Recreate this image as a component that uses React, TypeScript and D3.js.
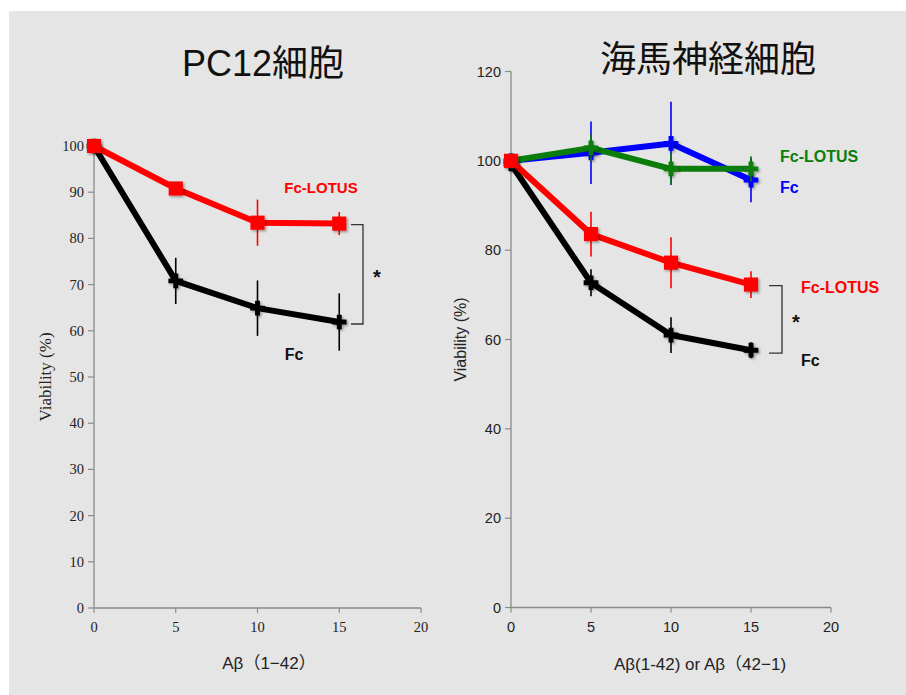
import React from 'react';
import * as d3 from 'd3';

// doses of Aβ (x) shared by both panels
const doses = [0, 5, 10, 15];
const xTicks = [0, 5, 10, 15, 20];
const pc12YTicks = [0, 10, 20, 30, 40, 50, 60, 70, 80, 90, 100];
const hipYTicks = [0, 20, 40, 60, 80, 100, 120];

// PC12 cells
const pc12Lotus = [100, 90.8, 83.4, 83.2];
const pc12LotusErr = [0.8, 1, 5, 2.5];
const pc12Fc = [100, 70.8, 64.9, 61.9];
const pc12FcErr = [0.5, 5, 6, 6.2];

// hippocampal neurons
const hipFc = [99.3, 72.7, 61, 57.6];
const hipFcErr = [0.8, 3, 4, 1.8];
const hipLotus = [100, 83.6, 77.2, 72.3];
const hipLotusErr = [0.8, 5, 5.7, 3];
const hipFcRev = [100, 101.8, 103.9, 95.7];
const hipFcRevErr = [0.5, 7, 9.3, 5];
const hipLotusRev = [100, 102.9, 98.2, 98.2];
const hipLotusRevErr = [0.5, 3, 3.5, 2.8];

const SANS = '"Liberation Sans", Arial, "Noto Sans CJK JP", sans-serif';
const SERIF = '"Liberation Serif", "Times New Roman", serif';

type Series = {
  values: number[];
  err: number[];
  color: string;
  marker: 'square' | 'cross';
};

type PanelProps = {
  x0: number;
  x1: number;
  y0: number;
  y1: number;
  yMax: number;
  yTicks: number[];
  tickFont: string;
  series: Series[];
};

const Panel = ({ x0, x1, y0, y1, yMax, yTicks, tickFont, series }: PanelProps) => {
  const x = d3.scaleLinear().domain([0, 20]).range([x0, x1]);
  const y = d3.scaleLinear().domain([0, yMax]).range([y0, y1]);
  const line = d3
    .line<number>()
    .x((_, i) => x(doses[i]))
    .y((d) => y(d));
  const square = d3.symbol().type(d3.symbolSquare).size(200)();
  const cross = d3.symbol().type(d3.symbolCross).size(120)();

  return (
    <g>
      {/* axes */}
      <line x1={x0} x2={x0} y1={y0} y2={y1} stroke="#8a8a8a" strokeWidth={1.3} />
      <line x1={x0} x2={x1} y1={y0} y2={y0} stroke="#8a8a8a" strokeWidth={1.3} />
      {yTicks.map((t) => (
        <g key={'y' + t}>
          <line x1={x0 - 6} x2={x0} y1={y(t)} y2={y(t)} stroke="#8a8a8a" strokeWidth={1.2} />
          <text
            x={x0 - 10}
            y={y(t)}
            dy="0.35em"
            textAnchor="end"
            fontFamily={tickFont}
            fontSize={14.5}
            fill="#222"
          >
            {t}
          </text>
        </g>
      ))}
      {xTicks.map((t) => (
        <g key={'x' + t}>
          <line x1={x(t)} x2={x(t)} y1={y0} y2={y0 + 5} stroke="#8a8a8a" strokeWidth={1.2} />
          <text
            x={x(t)}
            y={y0 + 24}
            textAnchor="middle"
            fontFamily={tickFont}
            fontSize={14.5}
            fill="#222"
          >
            {t}
          </text>
        </g>
      ))}

      {/* series */}
      {series.map((s, si) => (
        <g key={si}>
          {s.values.map((v, i) => (
            <line
              key={i}
              x1={x(doses[i])}
              x2={x(doses[i])}
              y1={y(v - s.err[i])}
              y2={y(v + s.err[i])}
              stroke={s.color}
              strokeWidth={1.6}
            />
          ))}
          <path
            d={line(s.values) || ''}
            fill="none"
            stroke={s.color}
            strokeWidth={6}
            strokeLinejoin="round"
          />
          {s.values.map((v, i) => (
            <path
              key={'m' + i}
              d={(s.marker === 'square' ? square : cross) || ''}
              transform={`translate(${x(doses[i])},${y(v)})`}
              fill={s.color}
              filter="url(#shadow)"
            />
          ))}
        </g>
      ))}
    </g>
  );
};

const Bracket = ({ x, y1, y2, arm }: { x: number; y1: number; y2: number; arm: number }) => (
  <g>
    <path
      d={`M${x - arm},${y1}H${x}V${y2}H${x - arm}`}
      fill="none"
      stroke="#333"
      strokeWidth={1.3}
    />
    <text
      x={x + 14}
      y={(y1 + y2) / 2 + 10}
      fontFamily={SANS}
      fontWeight="bold"
      fontSize={20}
      textAnchor="middle"
      fill="#111"
    >
      *
    </text>
  </g>
);

export default function App() {
  const W = 906;
  const H = 695;

  const ly = d3.scaleLinear().domain([0, 100]).range([608, 146]);
  const ry = d3.scaleLinear().domain([0, 120]).range([607.5, 71.5]);

  return (
    <svg
      width={W}
      height={H}
      style={{ position: 'absolute', left: 0, top: 0, display: 'block' }}
    >
      <defs>
        <filter id="shadow" x="-50%" y="-50%" width="200%" height="200%">
          <feDropShadow dx="1.5" dy="1.5" stdDeviation="1.2" floodColor="#000" floodOpacity="0.35" />
        </filter>
      </defs>
      <rect x={0} y={0} width={W} height={H} fill="#fff" />
      <rect x={9} y={11} width={W - 9} height={H - 11} fill="#e5e5e5" />

      {/* titles */}
      <text x={263} y={76} textAnchor="middle" fontFamily={SANS} fontSize={36} fill="#111">
        PC12細胞
      </text>
      <text x={708} y={72} textAnchor="middle" fontFamily={SANS} fontSize={36} fill="#111">
        海馬神経細胞
      </text>

      {/* left panel */}
      <Panel
        x0={94}
        x1={421}
        y0={608}
        y1={146}
        yMax={100}
        yTicks={pc12YTicks}
        tickFont={SERIF}
        series={[
          { values: pc12Fc, err: pc12FcErr, color: '#000', marker: 'cross' },
          { values: pc12Lotus, err: pc12LotusErr, color: '#ff0000', marker: 'square' },
        ]}
      />
      <text
        transform={`translate(51,${(608 + 146) / 2}) rotate(-90)`}
        textAnchor="middle"
        fontFamily={SERIF}
        fontSize={17}
        fill="#222"
      >
        Viability (%)
      </text>
      <text x={269} y={669} textAnchor="middle" fontFamily={SANS} fontSize={17} fill="#222">
        Aβ（1−42）
      </text>
      <text x={321} y={193} textAnchor="middle" fontFamily={SANS} fontWeight="bold" fontSize={15} fill="#ff0000">
        Fc-LOTUS
      </text>
      <text x={294} y={360} textAnchor="middle" fontFamily={SANS} fontWeight="bold" fontSize={16} fill="#111">
        Fc
      </text>
      <Bracket x={363} y1={ly(pc12Lotus[3]) + 1} y2={ly(pc12Fc[3]) + 2} arm={12} />

      {/* right panel */}
      <Panel
        x0={511}
        x1={831}
        y0={607.5}
        y1={71.5}
        yMax={120}
        yTicks={hipYTicks}
        tickFont={SANS}
        series={[
          { values: hipFc, err: hipFcErr, color: '#000', marker: 'cross' },
          { values: hipFcRev, err: hipFcRevErr, color: '#0000ff', marker: 'cross' },
          { values: hipLotusRev, err: hipLotusRevErr, color: '#0a7d0a', marker: 'cross' },
          { values: hipLotus, err: hipLotusErr, color: '#ff0000', marker: 'square' },
        ]}
      />
      <text
        transform={`translate(466,${(607.5 + 71.5) / 2}) rotate(-90)`}
        textAnchor="middle"
        fontFamily={SANS}
        fontSize={16}
        fill="#222"
      >
        Viability (%)
      </text>
      <text x={700} y={670} textAnchor="middle" fontFamily={SANS} fontSize={17} fill="#222">
        Aβ(1-42) or Aβ（42−1)
      </text>
      <text x={780} y={162} fontFamily={SANS} fontWeight="bold" fontSize={16} fill="#0a7d0a">
        Fc-LOTUS
      </text>
      <text x={780} y={193} fontFamily={SANS} fontWeight="bold" fontSize={16} fill="#0000ff">
        Fc
      </text>
      <text x={801} y={293} fontFamily={SANS} fontWeight="bold" fontSize={16} fill="#ff0000">
        Fc-LOTUS
      </text>
      <text x={801} y={366} fontFamily={SANS} fontWeight="bold" fontSize={16} fill="#111">
        Fc
      </text>
      <Bracket x={782} y1={ry(hipLotus[3]) + 1} y2={ry(hipFc[3]) + 3} arm={13} />
    </svg>
  );
}
